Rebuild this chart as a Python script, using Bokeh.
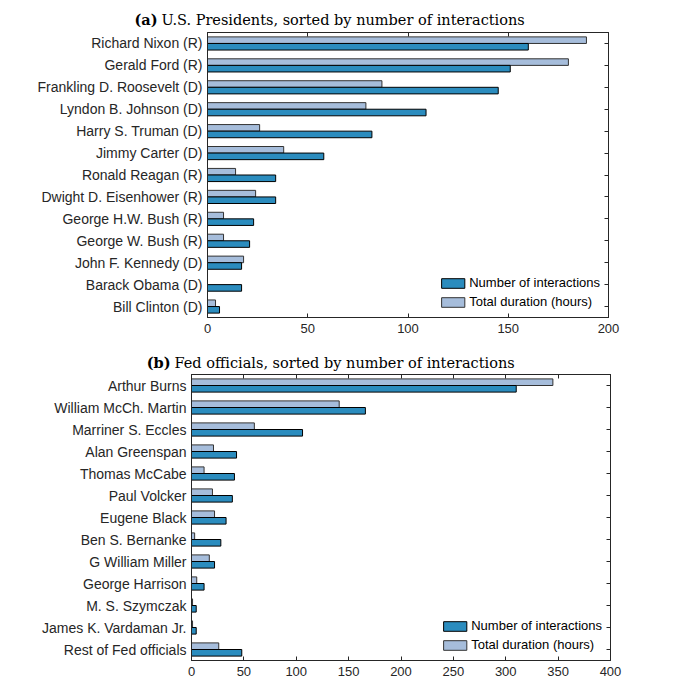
from bokeh.plotting import figure
from bokeh.models import (ColumnDataSource, Range1d, LinearAxis,
                          FixedTicker, CustomJSTickFormatter, Legend, LegendItem)
from bokeh.core.properties import value
from bokeh.embed import file_html
from bokeh.resources import INLINE

# ---------------- data ----------------
presidents = ["Richard Nixon (R)", "Gerald Ford (R)", "Frankling D. Roosevelt (D)",
              "Lyndon B. Johnson (D)", "Harry S. Truman (D)", "Jimmy Carter (D)",
              "Ronald Reagan (R)", "Dwight D. Eisenhower (R)", "George H.W. Bush (R)",
              "George W. Bush (R)", "John F. Kennedy (D)", "Barack Obama (D)",
              "Bill Clinton (D)"]
pres_interactions = [160, 151, 145, 109, 82, 58, 34, 34, 23, 21, 17, 17, 6]
pres_hours = [189, 180, 87, 79, 26, 38, 14, 24, 8, 8, 18, 0, 4]
pres_ticks = [0, 50, 100, 150, 200]

fed = ["Arthur Burns", "William McCh. Martin", "Marriner S. Eccles", "Alan Greenspan",
       "Thomas McCabe", "Paul Volcker", "Eugene Black", "Ben S. Bernanke",
       "G William Miller", "George Harrison", "M. S. Szymczak", "James K. Vardaman Jr.",
       "Rest of Fed officials"]
fed_interactions = [310, 166, 106, 43, 41, 39, 33, 28, 22, 12, 4.5, 4.5, 48]
fed_hours = [345, 141, 60, 21, 12, 20, 22, 3, 17, 5, 1, 1, 26]
fed_ticks = [0, 50, 100, 150, 200, 250, 300, 350, 400]

legend_labels = ["Number of interactions", "Total duration (hours)"]
title_a = ["(a)", "U.S. Presidents, sorted by number of interactions"]
title_b = ["(b)", "Fed officials, sorted by number of interactions"]

DARK = "#2b8cbe"
LIGHT = "#a6bddb"
AX = "#262626"
SANS = "Liberation Sans"
SERIF = "DejaVu Serif"
BAR_H = 0.3
W = 678


def blank():
    return CustomJSTickFormatter(code="return ''")


def title_strip(parts, height, x_tag, x_text, baseline):
    t = figure(width=W, height=height, x_range=Range1d(0, W), y_range=Range1d(0, height),
               x_axis_type=None, y_axis_type=None, output_backend="svg",
               toolbar_location=None, min_border=0)
    t.outline_line_color = None
    t.grid.visible = False
    t.text(x=[x_tag], y=[baseline], text=[parts[0]], text_font=value(SERIF),
           text_font_style="bold", text_font_size="14.5px", text_align="right",
           text_baseline="alphabetic", text_color="black")
    t.text(x=[x_text], y=[baseline], text=[parts[1]], text_font=value(SERIF),
           text_font_style="normal", text_font_size="14.5px", text_align="left",
           text_baseline="alphabetic", text_color="black")
    return t


def panel(names, counts, hours, ticks, height, bl, br, bt, bb):
    n = len(names)
    pos = [n - 1 - i for i in range(n)]          # first name on top
    src = ColumnDataSource(dict(
        name=names, count=counts, hours=hours,
        y_hours=[v + BAR_H / 2 for v in pos],
        y_count=[v - BAR_H / 2 for v in pos]))
    p = figure(width=W, height=height,
               y_range=Range1d(-0.5, n - 0.5),
               x_range=Range1d(ticks[0], ticks[-1]),
               output_backend="svg", toolbar_location=None,
               min_border_left=bl, min_border_right=br,
               min_border_top=bt, min_border_bottom=bb)
    p.grid.visible = False
    p.outline_line_color = AX
    p.outline_line_width = 1
    p.background_fill_color = "white"
    p.border_fill_color = "white"

    r_h = p.hbar(y="y_hours", left=0, right="hours", height=BAR_H,
                 fill_color=LIGHT, line_color="#333333", line_width=1, source=src)
    r_c = p.hbar(y="y_count", left=0, right="count", height=BAR_H,
                 fill_color=DARK, line_color="black", line_width=1, source=src)

    xa = p.xaxis[0]
    xa.ticker = FixedTicker(ticks=ticks)
    xa.major_tick_in = 4
    xa.major_tick_out = 0
    xa.minor_tick_line_color = None
    xa.axis_line_color = AX
    xa.major_tick_line_color = AX
    xa.major_label_text_font = SANS
    xa.major_label_text_font_size = "13px"
    xa.major_label_text_color = AX
    xa.major_label_standoff = 6

    ya = p.yaxis[0]
    ya.ticker = FixedTicker(ticks=pos)
    ya.major_label_overrides = {pos[i]: names[i] for i in range(n)}
    ya.major_tick_in = 0
    ya.major_tick_out = 0
    ya.minor_tick_line_color = None
    ya.axis_line_color = AX
    ya.major_label_text_font = SANS
    ya.major_label_text_font_size = "14px"
    ya.major_label_text_color = AX
    ya.major_label_standoff = 5

    top = LinearAxis(ticker=FixedTicker(ticks=ticks), formatter=blank(),
                     major_tick_in=4, major_tick_out=0, minor_tick_line_color=None,
                     axis_line_color=AX, major_tick_line_color=AX,
                     major_label_standoff=0)
    p.add_layout(top, "above")

    right = LinearAxis(ticker=FixedTicker(ticks=pos), formatter=blank(),
                       major_tick_in=4, major_tick_out=0,
                       minor_tick_line_color=None, axis_line_color=AX,
                       major_tick_line_color=AX, major_label_standoff=0)
    p.add_layout(right, "right")

    legend = Legend(items=[LegendItem(label=legend_labels[0], renderers=[r_c]),
                           LegendItem(label=legend_labels[1], renderers=[r_h])],
                    location="bottom_right")
    legend.background_fill_alpha = 0
    legend.border_line_color = None
    legend.glyph_width = 29
    legend.glyph_height = 12
    legend.label_height = 12
    legend.label_standoff = 2
    legend.spacing = 4
    legend.padding = 3
    legend.margin = 8
    legend.label_text_font = SANS
    legend.label_text_font_size = "13px"
    legend.label_text_color = "black"
    p.add_layout(legend)
    return p


t1 = title_strip(title_a, 32, 157, 161, 13)
p1 = panel(presidents, pres_interactions, pres_hours, pres_ticks, 318, 207, W - 608, 0, 33)
t2 = title_strip(title_b, 22, 170, 174, 10)
p2 = panel(fed, fed_interactions, fed_hours, fed_ticks, 314, 191, W - 610, 2, 26)

open("out.html", "w").write(file_html([t1, p1, t2, p2], INLINE))
